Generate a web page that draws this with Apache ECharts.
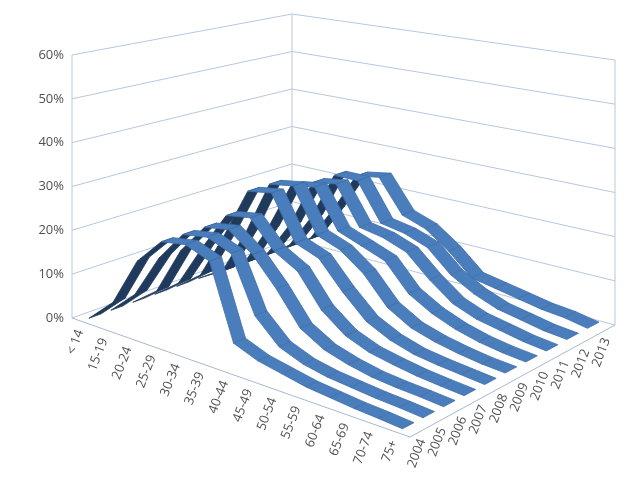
<!DOCTYPE html>
<html>
<head>
<meta charset="utf-8">
<script src="https://cdn.jsdelivr.net/npm/echarts@6/dist/echarts.min.js"></script>
<style>html,body{margin:0;background:#fff}#c{width:628px;height:484px}</style>
</head>
<body>
<div id="c"></div>
<script>
// age groups along the front-left edge, years along the front-right edge
var ages = ['< 14', '15-19', '20-24', '25-29', '30-34', '35-39', '40-44', '45-49', '50-54', '55-59', '60-64', '65-69', '70-74', '75+']
var years = ['2004', '2005', '2006', '2007', '2008', '2009', '2010', '2011', '2012', '2013']
var pctTicks = [0, 10, 20, 30, 40, 50, 60]
var share = [
    [0.5, 6, 17, 23, 24, 22, 6, 4, 3, 2, 1.5, 1, 0.7, 0.3],
    [0.5, 6, 16, 23, 24, 22, 10, 5, 3, 2, 1.5, 1, 0.7, 0.3],
    [0.5, 5, 16, 23, 24, 20, 14, 7, 4, 2.5, 1.5, 1, 0.7, 0.3],
    [0.5, 5, 15, 24, 25, 19, 16, 9, 5, 3, 2, 1.2, 0.7, 0.3],
    [0.5, 5, 16, 28, 29, 19, 17, 11, 6, 3.5, 2, 1.3, 0.8, 0.3],
    [0.5, 4, 15, 28, 29, 19, 17, 13, 7, 4, 2.5, 1.5, 0.8, 0.4],
    [0.5, 4, 14, 26, 27, 18, 16, 14, 8, 5, 3, 1.7, 0.9, 0.4],
    [0.5, 4, 13, 25, 26, 17, 16, 14, 9, 5, 3, 2, 1, 0.4],
    [0.5, 4, 13, 25, 25, 16, 15, 13, 8, 5, 3, 2, 1, 0.5],
    [0.5, 4, 13, 23, 24, 16, 14, 10, 5, 4, 3, 2, 1.5, 0.5]
]

// floor corners: (age0,year0) (ageN,year0) (ageN,yearN) (age0,yearN)
var F0 = [72, 318], F1 = [410, 437], B1 = [615, 325], B0 = [292, 239]
var H = { f0: 263 / 60, f1: 300 / 60, b1: 265 / 60, b0: 225 / 60 }

function project(u, v, p) {
    var x = (1 - u) * (1 - v) * F0[0] + u * (1 - v) * F1[0] + u * v * B1[0] + (1 - u) * v * B0[0]
    var y = (1 - u) * (1 - v) * F0[1] + u * (1 - v) * F1[1] + u * v * B1[1] + (1 - u) * v * B0[1]
    var h = (1 - u) * (1 - v) * H.f0 + u * (1 - v) * H.f1 + u * v * H.b1 + (1 - u) * v * H.b0
    return [x, y - p * h]
}
function ageU(i) { return (i + 0.5) / ages.length }
function yearV(j) { return (j + 0.5) / years.length }

var labelFont = { fontSize: 13, fill: '#505050', fontFamily: 'Open Sans' }
var graphics = []
var grid = { stroke: '#b7c7de', lineWidth: 1 }
pctTicks.forEach(function (p) {
    graphics.push({ type: 'polyline', shape: { points: [project(0, 0, p), project(0, 1, p), project(1, 1, p)] }, style: grid, silent: true })
    var a = project(0, 0, p)
    graphics.push({ type: 'text', x: a[0] - 8, y: a[1], style: Object.assign({ text: p + '%', align: 'right', verticalAlign: 'middle' }, labelFont) })
})
;[[0, 0], [0, 1], [1, 1]].forEach(function (c) {
    var a = project(c[0], c[1], 0), b = project(c[0], c[1], 60)
    graphics.push({ type: 'line', shape: { x1: a[0], y1: a[1], x2: b[0], y2: b[1] }, style: grid, silent: true })
})
graphics.push({ type: 'polyline', shape: { points: [project(0, 0, 0), project(1, 0, 0), project(1, 1, 0)] }, style: { stroke: '#a8b8d0', lineWidth: 1 } })
ages.forEach(function (a, i) {
    var q = project(ageU(i), 0, 0)
    graphics.push({ type: 'text', x: q[0] - 4, y: q[1] + 8, rotation: 1.2, style: Object.assign({ text: a, align: 'right', verticalAlign: 'middle' }, labelFont) })
})
years.forEach(function (yr, j) {
    var q = project(1, yearV(j), 0)
    graphics.push({ type: 'text', x: q[0] + 2, y: q[1] + 8, rotation: 1.2, style: Object.assign({ text: yr, align: 'right', verticalAlign: 'middle' }, labelFont) })
})

var option = {
    animation: false,
    graphic: { elements: graphics },
    series: [{
        type: 'custom',
        coordinateSystem: 'none',
        data: years.map(function (y, j) { return [j] }).reverse(),
        renderItem: function (params, api) {
            var j = api.value(0)
            var d = 0.28 / years.length
            var vals = share[j]
            var kids = []
            for (var i = 0; i < vals.length - 1; i++) {
                var u0 = ageU(i), u1 = ageU(i + 1), v = yearV(j)
                var quad = [project(u0, v - d, vals[i]), project(u1, v - d, vals[i + 1]),
                            project(u1, v + d, vals[i + 1]), project(u0, v + d, vals[i])]
                var rising = vals[i + 1] > vals[i] + 1
                kids.push({
                    type: 'polygon', shape: { points: quad },
                    style: { fill: rising ? '#1f3a5c' : '#4a7dbb', stroke: rising ? '#1f3a5c' : '#3f6fa8', lineWidth: 0.8 }
                })
            }
            return { type: 'group', children: kids }
        }
    }]
}
var myChart = echarts.init(document.getElementById('c'))
myChart.setOption(option)
</script>
</body>
</html>
